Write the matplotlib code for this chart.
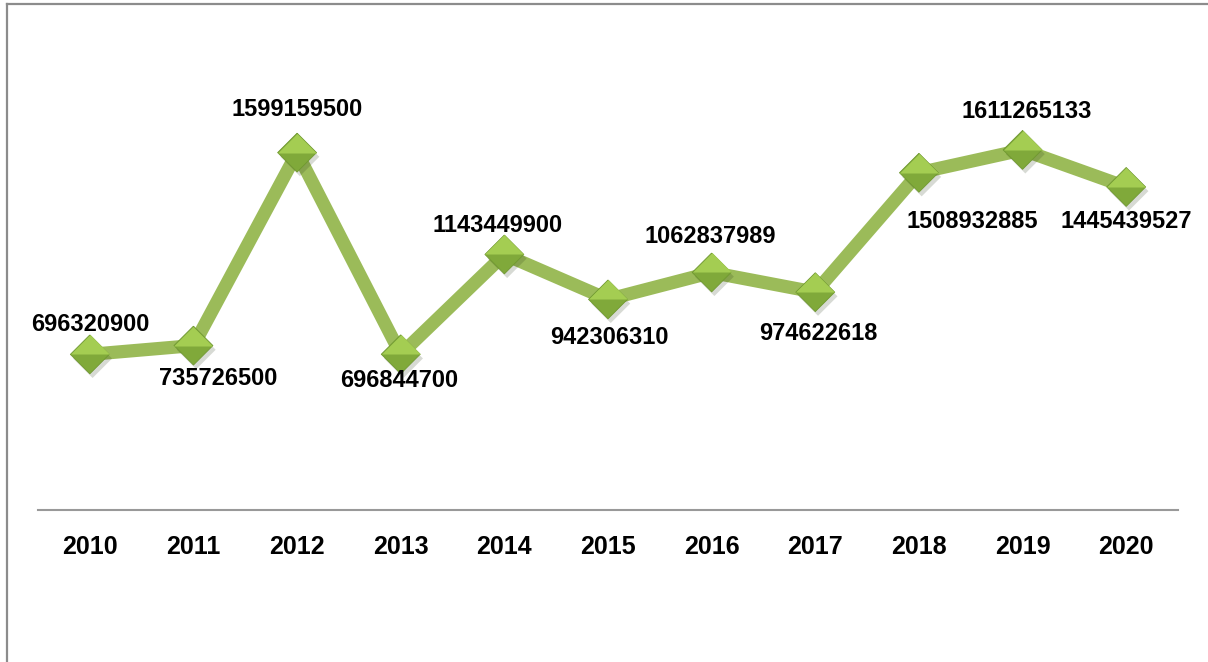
import numpy as np
import matplotlib
matplotlib.use("Agg")
import matplotlib.pyplot as plt
import matplotlib.patheffects as pe
from matplotlib.path import Path
from matplotlib.lines import Line2D

years = ["2010", "2011", "2012", "2013", "2014", "2015", "2016", "2017", "2018", "2019", "2020"]
values = [696320900, 735726500, 1599159500, 696844700, 1143449900, 942306310,
          1062837989, 974622618, 1508932885, 1611265133, 1445439527]

# label offsets in pixels (dx, dy), dy measured downwards on screen
label_dx = [0, 25, 0, -2, -7, 1, -1, 3, 53, 4, 0]
label_dy = [-30, 33, -43, 26, -29, 38, -36, 41, 49, -38, 35]

W, H = 1208, 662
fig = plt.figure(figsize=(W / 100, H / 100), dpi=100)
fig.patch.set_facecolor("white")

# outer chart border (left and top edges visible)
fig.add_artist(Line2D([7 / W, 7 / W], [0, 1 - 4 / H], transform=fig.transFigure,
                      color="#8c8c8c", lw=1.6))
fig.add_artist(Line2D([7 / W, 1], [1 - 4 / H, 1 - 4 / H], transform=fig.transFigure,
                      color="#8c8c8c", lw=1.6))

ax = fig.add_axes([38 / W, (H - 510) / H, (1178 - 38) / W, (510 - 63) / H])
x = np.arange(len(years))

ax.plot(x, values, color="#9bbb59", lw=9.5, solid_joinstyle="miter", zorder=2)

diamond = Path([(0, 1), (1, 0), (0, -1), (-1, 0), (0, 1)])
top_half = Path([(-1, 0), (0, 1), (1, 0), (-1, 0)])
ms = 28
ax.plot(x, values, ls="none", marker=diamond, ms=ms, mfc="#80a93a", mec="#6f9830",
        mew=0.6, zorder=3,
        path_effects=[pe.SimplePatchShadow(offset=(2, -3), alpha=0.18), pe.Normal()])
ax.plot(x, values, ls="none", marker=top_half, ms=ms, mfc="#a4cd52", mec="none",
        zorder=4)

for i, v in enumerate(values):
    ax.annotate(f"{v}", (x[i], v), xytext=(label_dx[i], -label_dy[i]),
                textcoords="offset pixels", ha="center", va="center",
                fontsize=17, fontweight="bold", family="Liberation Sans",
                color="black", zorder=5)

ax.set_xlim(-0.5, len(years) - 0.5)
ax.set_ylim(0, 2000000000)
ax.set_xticks(x)
ax.set_xticklabels(years, fontsize=18, fontweight="bold", family="Liberation Sans")
ax.tick_params(axis="x", length=0, pad=18)
ax.set_yticks([])
for s in ["left", "right", "top"]:
    ax.spines[s].set_visible(False)
ax.spines["bottom"].set_color("#999999")
ax.spines["bottom"].set_linewidth(1.5)
ax.patch.set_alpha(0)

fig.savefig("out.png", dpi=100)
